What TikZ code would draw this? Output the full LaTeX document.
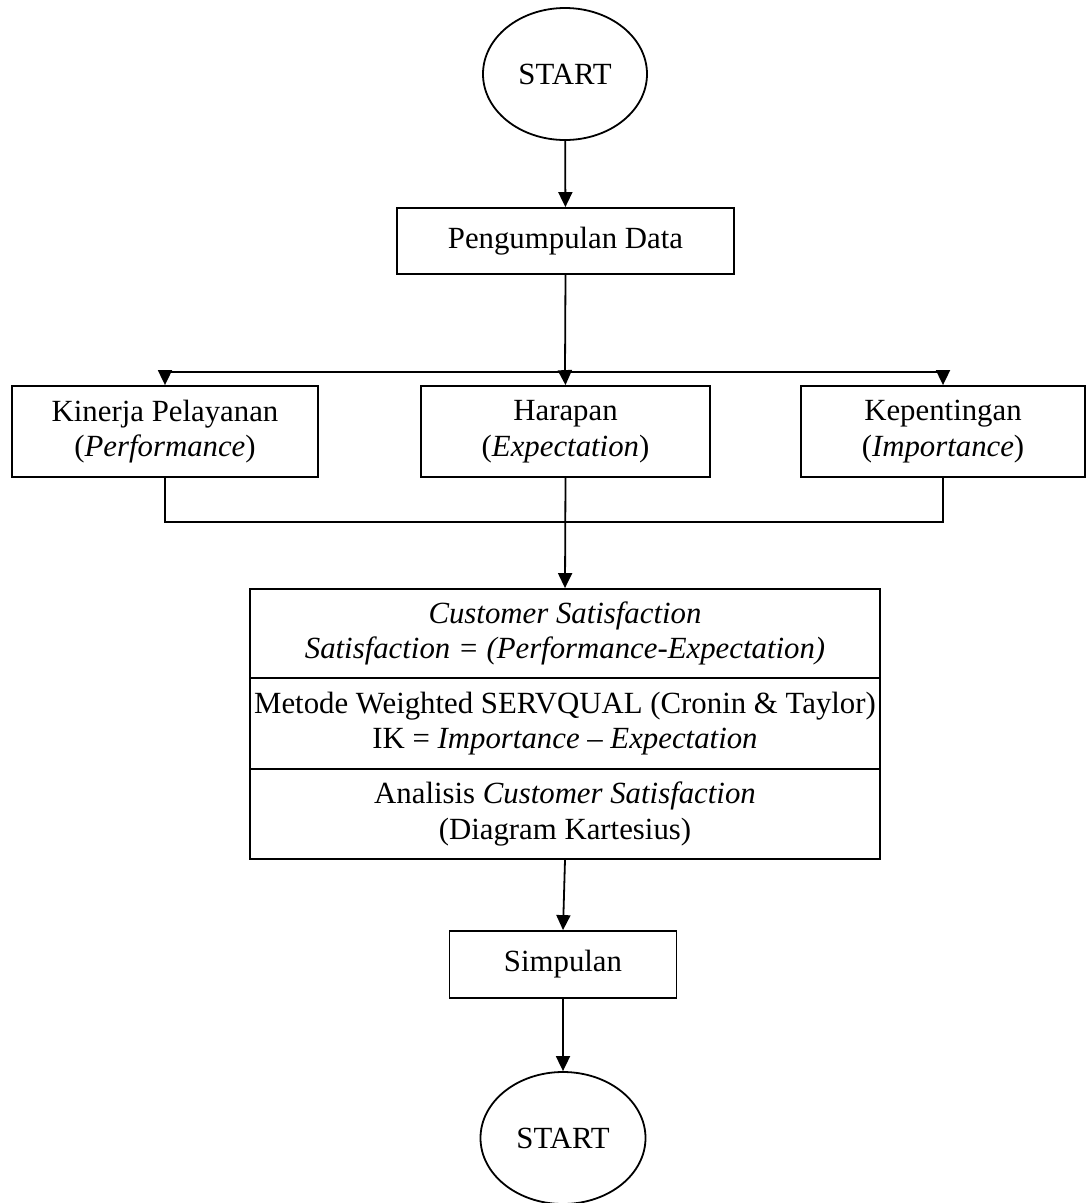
\documentclass[tikz,border=0pt]{standalone}
\usepackage{fontspec}
\setmainfont{Liberation Serif}
\usetikzlibrary{shapes.geometric,arrows.meta}
\begin{document}
\begin{tikzpicture}[x=1pt,y=-1pt,
  every node/.style={font=\fontsize{30.8}{35.5}\selectfont, align=center, inner sep=0pt, line width=1.8pt},
  boxnode/.style={draw, rectangle},
  terminal/.style={draw, ellipse, minimum width=164pt, minimum height=132pt},
  flow/.style={line width=1.8pt, -{Triangle[length=15pt,width=14pt]}},
  plain/.style={line width=1.8pt}]
\useasboundingbox (0,0) rectangle (1087,1203);

% start and data collection
\node[terminal] (start) at (565,74) {START};
\node[boxnode, minimum width=337pt, minimum height=66pt] (peng) at (565.5,241) {Pengumpulan Data};

% the three measured aspects
\node[boxnode, minimum width=306pt, minimum height=91pt] (kin) at (165,431.5) {Kinerja Pelayanan\\(\textit{Performance})};
\node[boxnode, minimum width=289pt, minimum height=91pt] (har) at (565.5,431.5) {Harapan\\(\textit{Expectation})};
\node[boxnode, minimum width=284pt, minimum height=91pt] (kep) at (943,431.5) {Kepentingan\\(\textit{Importance})};

% analysis block
\node[boxnode, minimum width=630pt, minimum height=89pt] (cs) at (565,633.5) {\textit{Customer Satisfaction}\\\textit{Satisfaction = (Performance-Expectation)}};
\node[boxnode, minimum width=630pt, minimum height=91pt] (ws) at (565,723.5) {Metode Weighted SERVQUAL (Cronin \& Taylor)\\IK = \textit{Importance -- Expectation}};
\node[boxnode, minimum width=630pt, minimum height=90pt] (an) at (565,814) {Analisis \textit{Customer Satisfaction}\\(Diagram Kartesius)};

% conclusion and end
\node[boxnode, minimum width=227pt, minimum height=67pt] (simp) at (563,964.5) {Simpulan};
\node[terminal, minimum width=165pt] (stop) at (563,1138) {START};

\coordinate (split) at (565,372);
\coordinate (merge) at (565,522);

\draw[flow] (start) -- (peng);
\draw[plain] (peng.south) -- (split);
\draw[flow] (split) -| (kin.north);
\draw[flow] (split) -| (kep.north);
\draw[flow] (split) -- (har.north);

\draw[plain] (kin.south) -- (kin.south |- merge) -- (kep.south |- merge) -- (kep.south);
\draw[flow] (har.south) -- (cs.north);

\draw[flow] (an.south) -- (simp.north);
\draw[flow] (simp.south) -- (stop.north);
\end{tikzpicture}
\end{document}
